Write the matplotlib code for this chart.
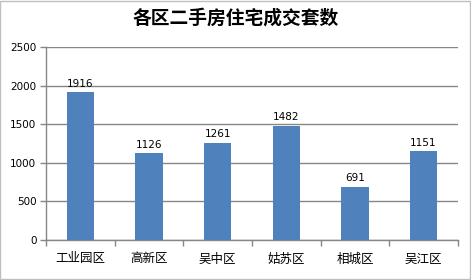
import matplotlib.pyplot as plt
from matplotlib.patches import Rectangle

plt.rcParams['font.family'] = ['Noto Sans CJK SC', 'DejaVu Sans']

# -------- DATA --------
districts = ["工业园区", "高新区", "吴中区", "姑苏区", "相城区", "吴江区"]
counts = [1916, 1126, 1261, 1482, 691, 1151]
yticks = [0, 500, 1000, 1500, 2000, 2500]

BAR_COLOR = "#4F81BD"
GRID = "#868686"

fig = plt.figure(figsize=(4.71, 2.80), dpi=100)
ax = fig.add_axes([0.098, 0.143, 0.874, 0.689])

x = list(range(len(districts)))
bars = ax.bar(x, counts, width=0.4, color=BAR_COLOR, zorder=3)
for xi, v in zip(x, counts):
    ax.text(xi, v + 45, str(v), ha="center", va="bottom", fontsize=7.5,
            family=["DejaVu Sans"], zorder=4)

ax.set_xlim(-0.5, len(districts) - 0.5)
ax.set_ylim(0, 2500)
ax.set_yticks(yticks)
ax.set_yticklabels([str(t) for t in yticks], fontsize=7.5, family=["DejaVu Sans"])
ax.set_xticks(x)
ax.set_xticklabels(districts, fontsize=9)
ax.tick_params(axis="x", length=0, pad=9)
ax.set_xticks([i - 0.5 for i in range(len(districts) + 1)], minor=True)
ax.tick_params(axis="x", which="minor", length=4, color=GRID, width=1)
ax.tick_params(axis="y", length=4, color=GRID, width=1, pad=3)

ax.grid(axis="y", color=GRID, linewidth=1, zorder=0)
for s in ["top", "right"]:
    ax.spines[s].set_visible(False)
ax.spines["left"].set_color(GRID)
ax.spines["bottom"].set_color(GRID)
ax.spines["left"].set_linewidth(1)
ax.spines["bottom"].set_linewidth(1)

fig.text(0.5, 0.935, "各区二手房住宅成交套数", ha="center", va="center",
         fontsize=13.5, fontweight="bold")

# outer border
fig.patches.append(Rectangle((0.001, 0.002), 0.996, 0.994, transform=fig.transFigure,
                             fill=False, edgecolor="#BFBFBF", linewidth=1))

fig.savefig("out.png", dpi=100)
